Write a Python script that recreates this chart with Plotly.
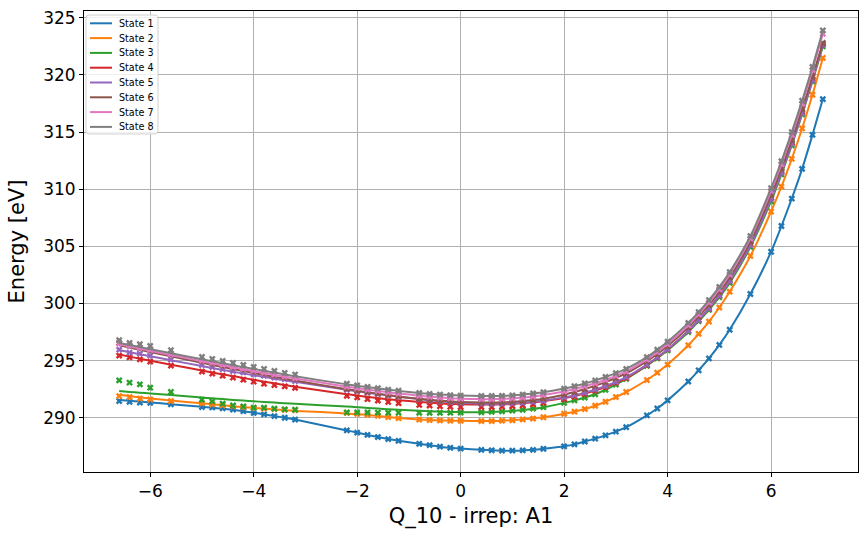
import plotly.graph_objects as go

x_q = [-6.6, -6.4, -6.2, -6.0, -5.6, -5.0, -4.8, -4.6, -4.4, -4.2, -4.0, -3.8, -3.6, -3.4, -3.2,
       -2.2, -2.0, -1.8, -1.6, -1.4, -1.2, -0.8, -0.6, -0.4, -0.2, 0.0, 0.4, 0.6, 0.8, 1.0, 1.2, 1.4, 1.6,
       2.0, 2.2, 2.4, 2.6, 2.8, 3.0, 3.2, 3.6, 3.8, 4.0, 4.4, 4.6, 4.8, 5.0, 5.2, 5.6, 6.0, 6.2, 6.4, 6.6, 6.8, 7.0]

state_names = ["State 1", "State 2", "State 3", "State 4", "State 5", "State 6", "State 7", "State 8"]
colors = ["#1f77b4", "#ff7f0e", "#2ca02c", "#d62728", "#9467bd", "#8c564b", "#e377c2", "#7f7f7f"]

# computed energies (markers)
s1_data = [291.46, 291.40, 291.33, 291.30, 291.17, 290.93, 290.90, 290.82, 290.72, 290.57, 290.42, 290.29, 290.14, 290.00, 289.84,
           288.89, 288.70, 288.50, 288.31, 288.13, 287.98, 287.72, 287.60, 287.47, 287.37, 287.30, 287.19, 287.15, 287.12, 287.12, 287.14, 287.19, 287.28,
           287.50, 287.67, 287.92, 288.17, 288.46, 288.78, 289.17, 290.21, 290.81, 291.52, 293.17, 294.15, 295.19, 296.37, 297.70, 300.83, 304.53, 306.78, 309.18, 311.78, 314.76, 317.89]
s2_data = [291.89, 291.81, 291.68, 291.61, 291.46, 291.27, 291.18, 291.09, 291.02, 290.94, 290.86, 290.80, 290.75, 290.70, 290.66,
           290.42, 290.34, 290.26, 290.17, 290.06, 289.96, 289.84, 289.79, 289.76, 289.74, 289.73, 289.71, 289.71, 289.74, 289.78, 289.85, 289.93, 290.04,
           290.35, 290.53, 290.76, 291.05, 291.40, 291.81, 292.25, 293.30, 293.94, 294.65, 296.34, 297.34, 298.42, 299.65, 301.03, 304.16, 308.05, 310.23, 312.66, 315.32, 318.27, 321.49]
s3_data = [293.27, 293.07, 292.92, 292.63, 292.25, 291.58, 291.43, 291.23, 291.08, 290.99, 290.88, 290.88, 290.79, 290.73, 290.70,
           290.47, 290.47, 290.46, 290.45, 290.44, 290.44, 290.43, 290.43, 290.43, 290.44, 290.46, 290.48, 290.51, 290.56, 290.62, 290.70, 290.80, 290.92,
           291.30, 291.52, 291.77, 292.05, 292.45, 292.90, 293.40, 294.55, 295.20, 295.90, 297.50, 298.45, 299.45, 300.55, 301.80, 304.95, 308.95, 311.30, 313.85, 316.55, 319.45, 322.50]
s4_data = [295.44, 295.29, 295.11, 294.91, 294.56, 294.04, 293.86, 293.68, 293.51, 293.33, 293.16, 292.98, 292.86, 292.75, 292.62,
           291.92, 291.78, 291.64, 291.50, 291.38, 291.27, 291.12, 291.06, 291.00, 290.96, 290.94, 290.93, 290.94, 290.97, 291.02, 291.09, 291.18, 291.30,
           291.62, 291.83, 292.07, 292.35, 292.68, 293.05, 293.47, 294.60, 295.27, 295.98, 297.60, 298.55, 299.57, 300.70, 301.98, 305.15, 309.25, 311.55, 314.05, 316.75, 319.65, 322.70]
s5_data = [295.96, 295.70, 295.61, 295.44, 295.09, 294.61, 294.44, 294.26, 294.09, 293.97, 293.80, 293.68, 293.51, 293.39, 293.21,
           292.45, 292.32, 292.19, 292.07, 291.95, 291.84, 291.63, 291.53, 291.44, 291.36, 291.30, 291.23, 291.21, 291.22, 291.25, 291.31, 291.39, 291.49,
           291.78, 291.97, 292.20, 292.46, 292.78, 293.14, 293.55, 294.65, 295.30, 296.00, 297.60, 298.55, 299.57, 300.70, 301.97, 305.10, 309.15, 311.45, 313.95, 316.65, 319.55, 322.65]
s6_data = [296.55, 296.30, 296.12, 295.95, 295.55, 294.95, 294.77, 294.60, 294.42, 294.25, 294.08, 293.90, 293.73, 293.56, 293.40,
           292.52, 292.38, 292.25, 292.12, 291.99, 291.87, 291.66, 291.57, 291.49, 291.43, 291.38, 291.33, 291.33, 291.35, 291.39, 291.46, 291.55, 291.67,
           292.02, 292.25, 292.51, 292.80, 293.12, 293.48, 293.88, 294.95, 295.58, 296.28, 297.90, 298.85, 299.88, 301.00, 302.28, 305.40, 309.50, 311.80, 314.30, 317.00, 319.85, 322.80]
s7_data = [296.50, 296.32, 296.12, 295.95, 295.57, 295.00, 294.82, 294.64, 294.46, 294.29, 294.12, 293.95, 293.79, 293.62, 293.46,
           292.72, 292.59, 292.47, 292.35, 292.23, 292.12, 291.93, 291.84, 291.77, 291.71, 291.67, 291.63, 291.63, 291.65, 291.69, 291.76, 291.86, 291.98,
           292.30, 292.51, 292.75, 293.02, 293.32, 293.66, 294.05, 295.10, 295.74, 296.45, 298.10, 299.05, 300.10, 301.25, 302.55, 305.70, 309.85, 312.20, 314.75, 317.50, 320.45, 323.60]
s8_data = [296.78, 296.55, 296.43, 296.28, 295.92, 295.32, 295.14, 294.98, 294.80, 294.62, 294.45, 294.28, 294.10, 293.93, 293.78,
           292.98, 292.83, 292.70, 292.58, 292.46, 292.36, 292.17, 292.09, 292.03, 291.98, 291.94, 291.90, 291.90, 291.92, 291.96, 292.03, 292.12, 292.23,
           292.55, 292.76, 293.00, 293.27, 293.57, 293.90, 294.28, 295.30, 295.95, 296.65, 298.30, 299.25, 300.30, 301.45, 302.75, 305.90, 310.10, 312.45, 315.00, 317.75, 320.70, 323.90]

# fitted curves (lines)
s1_fit = [291.56, 291.49, 291.41, 291.34, 291.19, 290.96, 290.88, 290.79, 290.69, 290.57, 290.44, 290.30, 290.15, 290.00, 289.84,
          288.89, 288.70, 288.50, 288.31, 288.13, 287.98, 287.72, 287.60, 287.47, 287.37, 287.30, 287.19, 287.15, 287.12, 287.12, 287.14, 287.19, 287.28,
          287.50, 287.67, 287.92, 288.17, 288.46, 288.78, 289.17, 290.21, 290.81, 291.52, 293.17, 294.15, 295.19, 296.37, 297.70, 300.83, 304.53, 306.78, 309.18, 311.78, 314.76, 317.89]
s2_fit = [292.02, 291.90, 291.78, 291.68, 291.50, 291.26, 291.17, 291.09, 291.01, 290.93, 290.86, 290.79, 290.72, 290.66, 290.60,
          290.38, 290.31, 290.24, 290.16, 290.06, 289.97, 289.85, 289.80, 289.76, 289.74, 289.73, 289.71, 289.71, 289.74, 289.78, 289.85, 289.93, 290.04,
          290.35, 290.53, 290.76, 291.05, 291.40, 291.81, 292.25, 293.30, 293.94, 294.65, 296.34, 297.34, 298.42, 299.65, 301.03, 304.16, 308.05, 310.23, 312.66, 315.32, 318.27, 321.49]
s3_fit = [292.33, 292.26, 292.19, 292.12, 291.98, 291.77, 291.70, 291.63, 291.56, 291.50, 291.44, 291.38, 291.33, 291.27, 291.22,
          290.98, 290.92, 290.86, 290.80, 290.75, 290.70, 290.61, 290.57, 290.54, 290.51, 290.49, 290.48, 290.50, 290.54, 290.60, 290.68, 290.78, 290.90,
          291.30, 291.52, 291.77, 292.05, 292.45, 292.90, 293.40, 294.55, 295.20, 295.90, 297.50, 298.45, 299.45, 300.55, 301.80, 304.95, 308.95, 311.30, 313.85, 316.55, 319.45, 322.50]
s4_fit = [295.53, 295.35, 295.17, 294.99, 294.64, 294.13, 293.96, 293.80, 293.64, 293.48, 293.32, 293.16, 293.01, 292.86, 292.72,
          292.06, 291.94, 291.83, 291.72, 291.62, 291.53, 291.38, 291.31, 291.26, 291.21, 291.18, 291.15, 291.15, 291.17, 291.21, 291.27, 291.35, 291.45,
          291.72, 291.90, 292.11, 292.37, 292.68, 293.05, 293.47, 294.60, 295.27, 295.98, 297.60, 298.55, 299.57, 300.70, 301.98, 305.15, 309.25, 311.55, 314.05, 316.75, 319.65, 322.70]
s5_fit = [295.92, 295.74, 295.56, 295.38, 295.03, 294.52, 294.35, 294.19, 294.03, 293.87, 293.72, 293.57, 293.42, 293.28, 293.14,
          292.45, 292.32, 292.19, 292.07, 291.95, 291.84, 291.63, 291.53, 291.44, 291.36, 291.30, 291.23, 291.21, 291.22, 291.25, 291.31, 291.39, 291.49,
          291.78, 291.97, 292.20, 292.46, 292.78, 293.14, 293.55, 294.65, 295.30, 296.00, 297.60, 298.55, 299.57, 300.70, 301.97, 305.10, 309.15, 311.45, 313.95, 316.65, 319.55, 322.65]
s6_fit = [296.34, 296.14, 295.94, 295.75, 295.37, 294.81, 294.62, 294.44, 294.26, 294.08, 293.91, 293.74, 293.57, 293.41, 293.25,
          292.50, 292.37, 292.24, 292.11, 291.98, 291.86, 291.66, 291.57, 291.49, 291.43, 291.38, 291.33, 291.33, 291.35, 291.39, 291.46, 291.55, 291.67,
          292.02, 292.25, 292.51, 292.80, 293.12, 293.48, 293.88, 294.95, 295.58, 296.28, 297.90, 298.85, 299.88, 301.00, 302.28, 305.40, 309.50, 311.80, 314.30, 317.00, 319.85, 322.80]
s7_fit = [296.43, 296.24, 296.05, 295.86, 295.49, 294.95, 294.77, 294.59, 294.42, 294.25, 294.08, 293.92, 293.76, 293.60, 293.44,
          292.72, 292.59, 292.47, 292.35, 292.23, 292.12, 291.93, 291.84, 291.77, 291.71, 291.67, 291.63, 291.63, 291.65, 291.69, 291.76, 291.86, 291.98,
          292.30, 292.51, 292.75, 293.02, 293.32, 293.66, 294.05, 295.10, 295.74, 296.45, 298.10, 299.05, 300.10, 301.25, 302.55, 305.70, 309.85, 312.20, 314.75, 317.50, 320.45, 323.60]
s8_fit = [296.54, 296.36, 296.18, 296.00, 295.64, 295.11, 294.94, 294.77, 294.60, 294.43, 294.27, 294.11, 293.95, 293.79, 293.63,
          292.92, 292.80, 292.68, 292.56, 292.45, 292.35, 292.17, 292.09, 292.03, 291.98, 291.94, 291.90, 291.90, 291.92, 291.96, 292.03, 292.12, 292.23,
          292.55, 292.76, 293.00, 293.27, 293.57, 293.90, 294.28, 295.30, 295.95, 296.65, 298.30, 299.25, 300.30, 301.45, 302.75, 305.90, 310.10, 312.45, 315.00, 317.75, 320.70, 323.90]

data_sets = [s1_data, s2_data, s3_data, s4_data, s5_data, s6_data, s7_data, s8_data]
fit_sets = [s1_fit, s2_fit, s3_fit, s4_fit, s5_fit, s6_fit, s7_fit, s8_fit]

x_ticks = [-6, -4, -2, 0, 2, 4, 6]
y_ticks = [290, 295, 300, 305, 310, 315, 320, 325]

fig = go.Figure()
for name, col, dat, fit in zip(state_names, colors, data_sets, fit_sets):
    fig.add_trace(go.Scatter(x=x_q, y=dat, mode="markers", showlegend=False, name=name,
                             marker=dict(symbol="x", size=6, color=col, line=dict(width=0))))
    fig.add_trace(go.Scatter(x=x_q, y=fit, mode="lines", name=name, showlegend=False,
                             line=dict(color=col, width=2, shape="spline", smoothing=0.6)))

# compact matplotlib-style legend (pixel offsets from the plot's top-left corner)
LEG_TOP = 12.3
LEG_STEP = 14.8
shapes = [dict(type="path", xref="paper", yref="paper", xsizemode="pixel", ysizemode="pixel",
               xanchor=0, yanchor=1,
               path="M 5,-4 L 71,-4 Q 74,-4 74,-7 L 74,-120 Q 74,-123 71,-123 L 5,-123 "
                    "Q 2,-123 2,-120 L 2,-7 Q 2,-4 5,-4 Z",
               fillcolor="rgba(255,255,255,0.8)", line=dict(color="#d0d0d0", width=1), layer="above")]
annotations = []
for k, (name, col) in enumerate(zip(state_names, colors)):
    yy = -(LEG_TOP + LEG_STEP * k)
    shapes.append(dict(type="line", xref="paper", yref="paper", xsizemode="pixel", ysizemode="pixel",
                       xanchor=0, yanchor=1, x0=6, x1=28, y0=yy, y1=yy,
                       line=dict(color=col, width=2), layer="above"))
    annotations.append(dict(text=name, xref="paper", yref="paper", x=0, y=1, xanchor="left", yanchor="middle",
                            xshift=33, yshift=yy, showarrow=False, font=dict(size=9.6, color="black")))

axis_common = dict(showgrid=True, gridcolor="#b0b0b0", gridwidth=1, zeroline=False,
                   showline=True, linecolor="black", linewidth=1, mirror=True,
                   ticks="outside", ticklen=4, tickcolor="black", tickwidth=1,
                   tickfont=dict(size=17, color="black"))

fig.update_layout(
    width=867, height=537,
    margin=dict(l=84, r=9, t=11, b=65),
    paper_bgcolor="white", plot_bgcolor="white",
    font=dict(family="DejaVu Sans", color="black"),
    showlegend=False,
    shapes=shapes, annotations=annotations,
    xaxis=dict(range=[-7.28, 7.68], tickvals=x_ticks,
               title=dict(text="Q_10 - irrep: A1", font=dict(size=21), standoff=7), **axis_common),
    yaxis=dict(range=[285.25, 325.6], tickvals=y_ticks,
               title=dict(text="Energy [eV]", font=dict(size=21), standoff=12), **axis_common),
)

fig.write_html("out.html")
